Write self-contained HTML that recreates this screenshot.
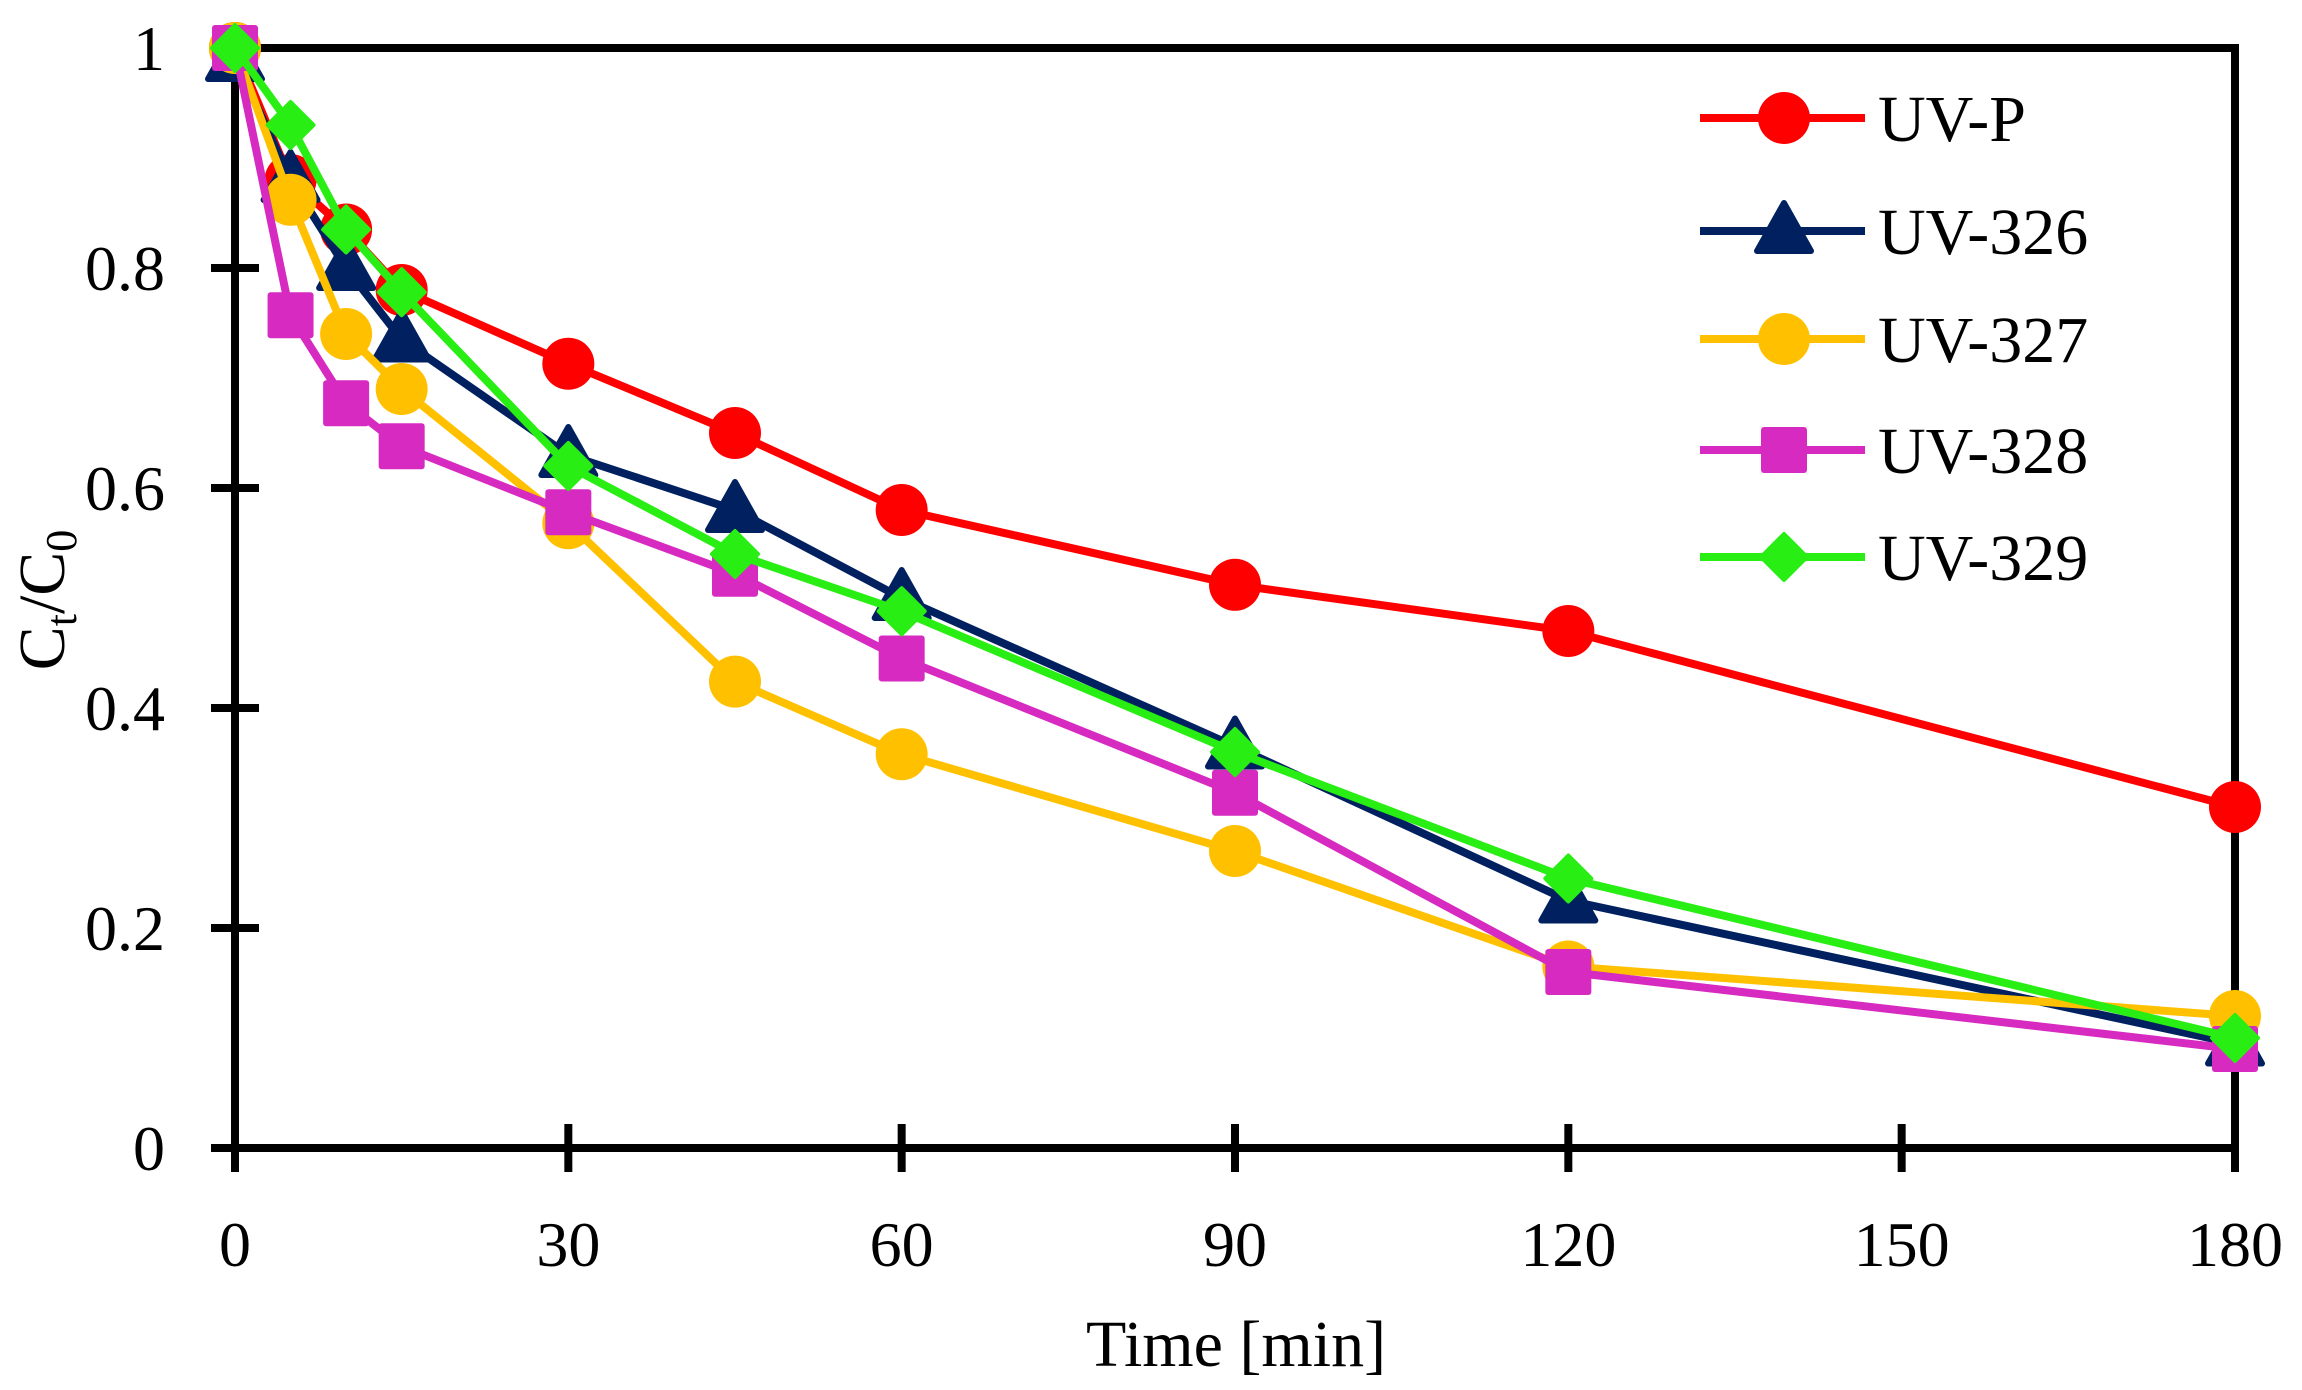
<!DOCTYPE html>
<html><head><meta charset="utf-8"><style>
html,body{margin:0;padding:0;background:#fff;}
svg{display:block;font-family:"Liberation Serif",serif;}
</style></head><body>
<svg id="s" width="2302" height="1390" viewBox="0 0 2302 1390" xmlns="http://www.w3.org/2000/svg"></svg>
<script>
const X0=235,X1=2235,Y0=1148,Y1=48;
const px=t=>X0+(X1-X0)*t/180, py=v=>Y0-(Y0-Y1)*v;
const T=[0,5,10,15,30,45,60,90,120,180];
const S=[
 {n:"UV-P",c:"#FF0000",m:"c",d:[1,0.88,0.835,0.78,0.713,0.65,0.58,0.512,0.47,0.31]},
 {n:"UV-326",c:"#002060",m:"t",d:[0.99,0.88,0.80,0.735,0.63,0.58,0.50,0.365,0.225,0.095]},
 {n:"UV-327",c:"#FFC000",m:"c",d:[1,0.862,0.74,0.69,0.568,0.424,0.358,0.27,0.165,0.12]},
 {n:"UV-328",c:"#D72AC0",m:"s",d:[1,0.757,0.677,0.638,0.578,0.522,0.445,0.323,0.16,0.09]},
 {n:"UV-329",c:"#28EE14",m:"d",d:[1,0.93,0.835,0.778,0.62,0.54,0.488,0.36,0.245,0.10]}];
let h="";
function mk(m,x,y,c){
 if(m=="c")return `<circle cx="${x}" cy="${y}" r="26" fill="${c}"/>`;
 if(m=="s")return `<rect x="${x-23}" y="${y-23}" width="46" height="46" rx="3" fill="${c}"/>`;
 if(m=="t")return `<polygon points="${x},${y-28} ${x+27},${y+20} ${x-27},${y+20}" fill="${c}" stroke="${c}" stroke-width="6" stroke-linejoin="round"/>`;
 return `<polygon points="${x},${y-23} ${x+23},${y} ${x},${y+23} ${x-23},${y}" fill="${c}" stroke="${c}" stroke-width="4" stroke-linejoin="round"/>`;
}
h+=`<polyline points="${X0},${Y1} ${X1},${Y1} ${X1},${Y0}" fill="none" stroke="#000" stroke-width="8"/>`;
h+=`<line x1="${X0}" y1="${Y1-4}" x2="${X0}" y2="${Y0+4}" stroke="#000" stroke-width="8"/>`;
h+=`<line x1="${X0}" y1="${Y0}" x2="${X1}" y2="${Y0}" stroke="#000" stroke-width="8"/>`;
for(let i=0;i<=5;i++){const y=py(i*0.2);
 h+=`<line x1="${X0-24}" y1="${y}" x2="${X0+24}" y2="${y}" stroke="#000" stroke-width="8"/>`;
 const l=i==0?"0":i==5?"1":(i*0.2).toFixed(1);
 h+=`<text x="${X0-70}" y="${y+22}" font-size="64" text-anchor="end">${l}</text>`;}
for(let t=0;t<=180;t+=30){const x=px(t);
 h+=`<line x1="${x}" y1="${Y0-24}" x2="${x}" y2="${Y0+24}" stroke="#000" stroke-width="8"/>`;
 h+=`<text x="${x}" y="1266" font-size="64" text-anchor="middle">${t}</text>`;}
h+=`<text x="1236" y="1366" font-size="66" text-anchor="middle">Time [min]</text>`;
h+=`<text transform="translate(64,600) rotate(-90)" font-size="66" text-anchor="middle">C<tspan font-size="44" dy="12">t</tspan><tspan dy="-12">/C</tspan><tspan font-size="44" dy="12">0</tspan></text>`;
S.forEach((s,k)=>{
 h+=`<polyline points="${T.map((t,i)=>px(t)+","+py(s.d[i])).join(" ")}" fill="none" stroke="${s.c}" stroke-width="8" stroke-linejoin="round"/>`;
 T.forEach((t,i)=>h+=mk(s.m,px(t),py(s.d[i]),s.c));
 const ly=[118,231,339,450,557][k];
 h+=`<line x1="1700" y1="${ly}" x2="1865" y2="${ly}" stroke="${s.c}" stroke-width="8"/>`;
 h+=mk(s.m,1784,ly,s.c);
 h+=`<text x="1878" y="${ly+23}" font-size="66">${s.n}</text>`;
});
document.getElementById("s").innerHTML=h;
</script>
</body></html>
